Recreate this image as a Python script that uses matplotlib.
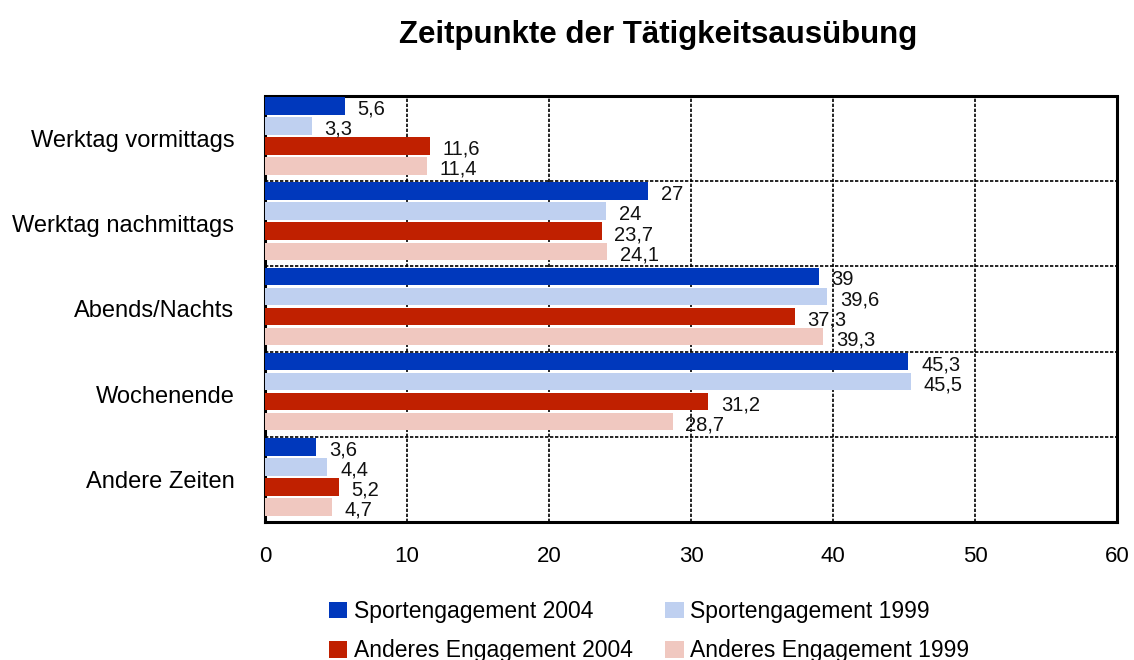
import numpy as np
import matplotlib.pyplot as plt
from matplotlib.ticker import FixedLocator

plt.rcParams['font.family'] = ['Liberation Sans', 'DejaVu Sans']

# Data
categories = ['Werktag vormittags', 'Werktag nachmittags', 'Abends/Nachts',
              'Wochenende', 'Andere Zeiten']
series_names = ['Sportengagement 2004', 'Sportengagement 1999',
                'Anderes Engagement 2004', 'Anderes Engagement 1999']
sport_2004 = [5.6, 27, 39, 45.3, 3.6]
sport_1999 = [3.3, 24, 39.6, 45.5, 4.4]
andere_2004 = [11.6, 23.7, 37.3, 31.2, 5.2]
andere_1999 = [11.4, 24.1, 39.3, 28.7, 4.7]
xticks = [0, 10, 20, 30, 40, 50, 60]

series = [sport_2004, sport_1999, andere_2004, andere_1999]
colors = ['#0038BC', '#BFD0F0', '#C02000', '#F0C8C0']

fig = plt.figure(figsize=(11.34, 6.6), dpi=100)
ax = fig.add_axes([0.2337, 0.2091, 0.7513, 0.6455])

y = np.arange(len(categories))
step = 0.235
h = 0.205
shift = -0.03

def fmt(v):
    s = f'{v:g}'
    return s.replace('.', ',')

handles = []
for i, (vals, col, name) in enumerate(zip(series, colors, series_names)):
    pos = y + shift + (i - 1.5) * step
    b = ax.barh(pos, vals, height=h, color=col, label=name, zorder=3)
    handles.append(b)
    for p, v in zip(pos, vals):
        ax.text(v + 0.9, p + 0.04, fmt(v), va='center', ha='left',
                fontsize=14.5, color='#111111', zorder=4)

ax.set_xlim(0, 60)
ax.set_ylim(len(categories) - 0.5, -0.5)
ax.set_xticks(xticks)
ax.set_xticklabels([str(t) for t in xticks], fontsize=16)
ax.set_yticks(y)
ax.set_yticklabels(categories, fontsize=17)
ax.yaxis.set_minor_locator(FixedLocator(np.arange(0.5, len(categories) - 0.5, 1)))
ax.tick_params(axis='both', which='both', length=0)
ax.tick_params(axis='x', pad=17)
ax.tick_params(axis='y', pad=22)

ax.grid(axis='x', which='major', color='black', linestyle=(0, (2, 1)), linewidth=1.2, zorder=1)
ax.grid(axis='y', which='minor', color='black', linestyle=(0, (2, 1)), linewidth=1.2, zorder=1)
ax.grid(axis='y', which='major', visible=False)
for sp in ax.spines.values():
    sp.set_linestyle((0, (1, 1)))
    sp.set_linewidth(2.2)
    sp.set_color('black')

fig.suptitle('Zeitpunkte der Tätigkeitsausübung', x=0.58, y=0.97,
             fontsize=22.5, fontweight='bold')

# legend filled row by row
order = [0, 2, 1, 3]
fig.legend(handles=[handles[k] for k in order],
           labels=[series_names[k] for k in order],
           loc='lower left', bbox_to_anchor=(0.272, -0.035),
           ncol=2, frameon=False, fontsize=16.5, handlelength=0.8,
           handleheight=0.75, handletextpad=0.3, columnspacing=1.4,
           labelspacing=0.72)

fig.savefig('out.png', dpi=100)
